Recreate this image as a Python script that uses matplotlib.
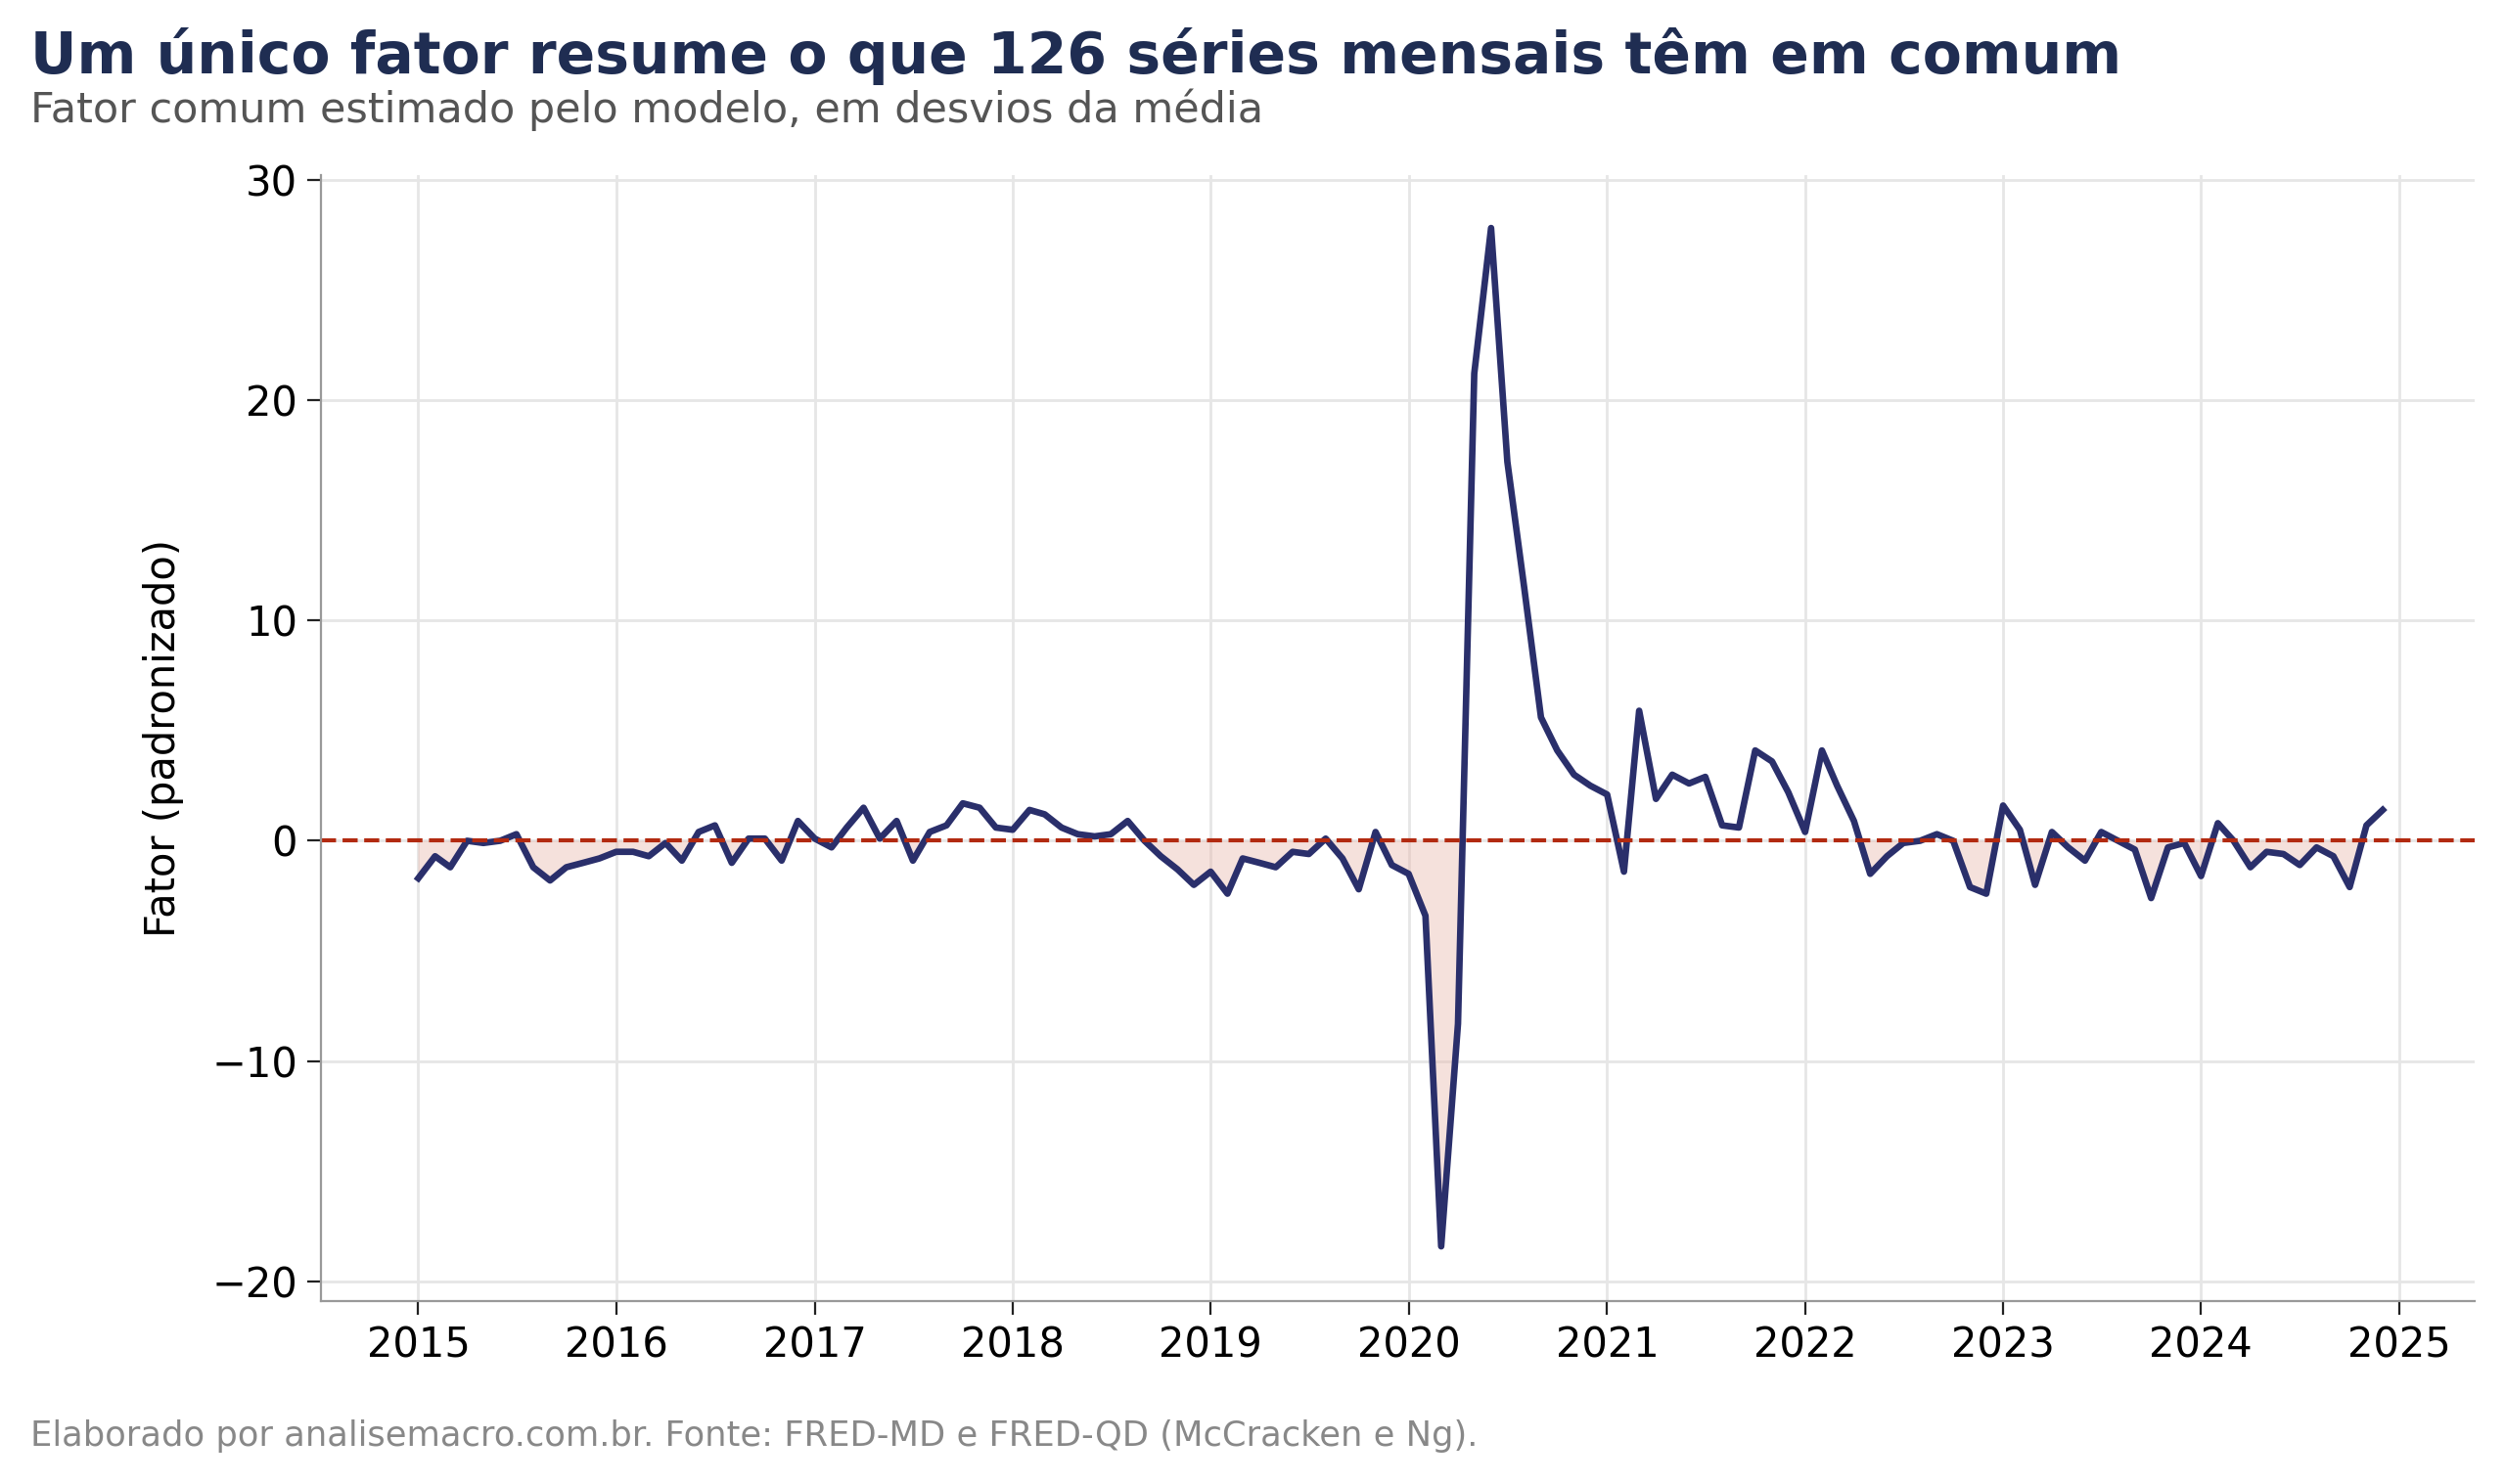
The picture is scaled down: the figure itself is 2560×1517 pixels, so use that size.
import matplotlib
matplotlib.use("Agg")
import matplotlib.pyplot as plt
import matplotlib.dates as mdates
import numpy as np
import pandas as pd

dates = pd.date_range("2015-01-01", "2024-12-01", freq="MS")
factor = [
    -1.7, -0.7, -1.2, 0.0, -0.1, 0.0, 0.3, -1.2, -1.8, -1.2, -1.0, -0.8,
    -0.5, -0.5, -0.7, -0.1, -0.9, 0.4, 0.7, -1.0, 0.1, 0.1, -0.9, 0.9,
    0.1, -0.3, 0.6, 1.5, 0.1, 0.9, -0.9, 0.4, 0.7, 1.7, 1.5, 0.6,
    0.5, 1.4, 1.2, 0.6, 0.3, 0.2, 0.3, 0.9, 0.0, -0.7, -1.3, -2.0,
    -1.4, -2.4, -0.8, -1.0, -1.2, -0.5, -0.6, 0.1, -0.8, -2.2, 0.4, -1.1,
    -1.5, -3.4, -18.4, -8.3, 21.2, 27.8, 17.2, 11.5, 5.6, 4.1, 3.0, 2.5,
    2.1, -1.4, 5.9, 1.9, 3.0, 2.6, 2.9, 0.7, 0.6, 4.1, 3.6, 2.2,
    0.4, 4.1, 2.5, 0.9, -1.5, -0.7, -0.1, 0.0, 0.3, 0.0, -2.1, -2.4,
    1.6, 0.5, -2.0, 0.4, -0.3, -0.9, 0.4, 0.0, -0.4, -2.6, -0.3, -0.1,
    -1.6, 0.8, 0.0, -1.2, -0.5, -0.6, -1.1, -0.3, -0.7, -2.1, 0.7, 1.4,
]
y = np.array(factor)

fig = plt.figure(figsize=(12.8, 7.585), dpi=200)
ax = fig.add_axes([0.128, 0.123, 0.86, 0.759])

ax.fill_between(dates, y, 0, where=y < 0, interpolate=True, color="#e8b4a8", alpha=0.4, linewidth=0)
ax.plot(dates, y, color="#2a2f6b", linewidth=2.4)
ax.axhline(0, color="#b22a10", linestyle="--", linewidth=1.5)

ax.set_ylim(-20.9, 30.2)
ax.set_xlim(pd.Timestamp("2014-07-05"), pd.Timestamp("2025-05-20"))
ax.set_yticks([-20, -10, 0, 10, 20, 30])
ax.xaxis.set_major_locator(mdates.YearLocator())
ax.xaxis.set_major_formatter(mdates.DateFormatter("%Y"))
ax.grid(True, color="#e6e6e6", linewidth=1.0)
ax.set_axisbelow(True)
for s in ["top", "right"]:
    ax.spines[s].set_visible(False)
for s in ["left", "bottom"]:
    ax.spines[s].set_color("#999999")
ax.tick_params(labelsize=15, colors="#222222", length=5)
ax.tick_params(axis="both", labelcolor="black")
ax.set_ylabel("Fator (padronizado)", fontsize=15, labelpad=10)

fig.text(0.012, 0.962, "Um único fator resume o que 126 séries mensais têm em comum",
         fontsize=21, fontweight="bold", color="#1f2d52", va="center")
fig.text(0.012, 0.926, "Fator comum estimado pelo modelo, em desvios da média",
         fontsize=15.5, color="#555555", va="center")
fig.text(0.012, 0.032, "Elaborado por analisemacro.com.br. Fonte: FRED-MD e FRED-QD (McCracken e Ng).",
         fontsize=12.7, color="#888888", va="center")

fig.savefig("out.png", dpi=200)
